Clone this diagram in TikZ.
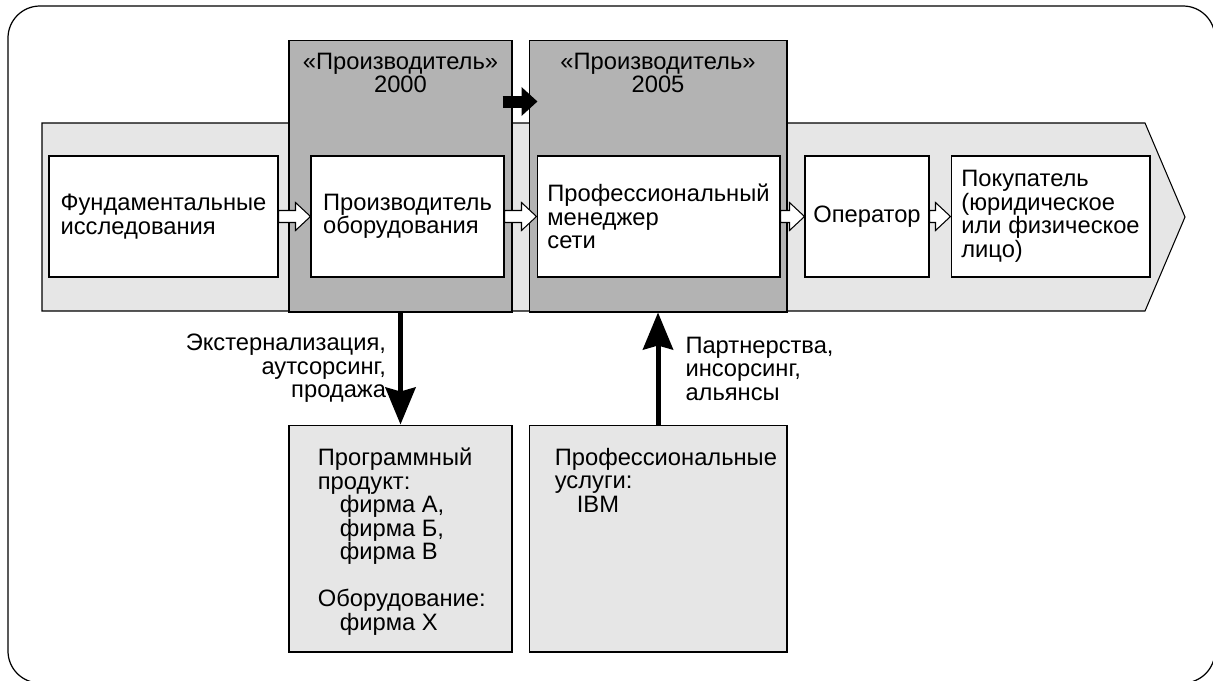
\documentclass[tikz,border=0pt]{standalone}
\usepackage{fontspec}
\setmainfont{Liberation Sans}
\usetikzlibrary{arrows.meta, calc}
\definecolor{colgray}{HTML}{B3B3B3}
\definecolor{bandgray}{HTML}{E6E6E6}

% white block arrow between two named boxes
\newcommand{\hollowarrow}[2]{%
  \draw[fill=white, line width=0.6pt] (#1.east) ++(0,-6) -- ($(#2.west)+(-15,-6)$) -- ($(#2.west)+(-15,-14)$) -- (#2.west) -- ($(#2.west)+(-15,14)$) -- ($(#2.west)+(-15,6)$) -- ($(#1.east)+(0,6)$) -- cycle;}

\begin{document}
\begin{tikzpicture}[x=0.02cm, y=-0.02cm, font=\fontsize{13.5}{13.4}\selectfont]

    \tikzstyle{stagebox} = [rectangle, draw, fill=white, line width=0.6pt, align=left, inner sep=0pt]
    \tikzstyle{phasecol} = [rectangle, draw, fill=colgray, line width=0.6pt]
    \tikzstyle{supplier} = [rectangle, draw, fill=bandgray, line width=0.6pt]
    \tikzstyle{bigarrow} = [line width=0.1cm, -{Stealth[length=0.74cm, width=0.6cm, inset=0.08cm]}]
    \tikzstyle{sidenote} = [inner sep=0pt]

    \useasboundingbox (0,0) rectangle (1213,680);
    \draw[line width=0.7pt, rounded corners=0.64cm] (8,6) rectangle (1215,683);

    % value chain band
    \draw[fill=bandgray, line width=0.6pt] (42,123) -- (1145,123) -- (1185,217) -- (1145,311) -- (42,311) -- cycle;

    \node (col1) [phasecol, minimum width=4.46cm, minimum height=5.44cm] at (400.5,176) {};
    \node (col2) [phasecol, minimum width=5.16cm, minimum height=5.44cm] at (658,176) {};
    \node (hdr1) [sidenote, anchor=north, align=center] at ($(col1.north)+(0,13)$) {«Производитель»\\2000};
    \node (hdr2) [sidenote, anchor=north, align=center] at ($(col2.north)+(0,13)$) {«Производитель»\\2005};

    \node (fund) [stagebox, minimum width=4.58cm, minimum height=2.42cm] at (163.5,216.5) {Фундаментальные\\исследования};
    \node (maker) [stagebox, minimum width=3.86cm, minimum height=2.42cm] at (407.5,216.5) {Производитель\\оборудования};
    \node (netmgr) [stagebox, minimum width=4.86cm, minimum height=2.42cm] at (658.5,216.5) {Профессиональный\\менеджер\\сети};
    \node (oper) [stagebox, minimum width=2.48cm, minimum height=2.42cm] at (867,216.5) {Оператор};
    \node (buyer) [stagebox, minimum width=3.98cm, minimum height=2.42cm] at (1050.5,216.5) {Покупатель\\(юридическое\\или физическое\\лицо)};

    \hollowarrow{fund}{maker}
    \hollowarrow{maker}{netmgr}
    \hollowarrow{netmgr}{oper}
    \hollowarrow{oper}{buyer}

    \draw[line width=0.24cm, -{Triangle[length=0.32cm, width=0.56cm]}] ($(col1.north east)+(-10,62)$) -- ($(col2.north west)+(9,62)$);

    \node (supp1) [supplier, minimum width=4.46cm, minimum height=4.54cm] at (400.5,538.5) {};
    \node (supp2) [supplier, minimum width=5.16cm, minimum height=4.54cm] at (658,538.5) {};
    \node (soft) [sidenote, anchor=north west, align=left] at ($(supp1.north west)+(29,23)$) {Программный\\продукт:\\\hspace*{0.44cm}фирма А,\\\hspace*{0.44cm}фирма Б,\\\hspace*{0.44cm}фирма В\\[13.4pt]Оборудование:\\\hspace*{0.44cm}фирма Х};
    \node (serv) [sidenote, anchor=north west, align=left] at ($(supp2.north west)+(26,23)$) {Профессиональные\\услуги:\\\hspace*{0.44cm}IBM};

    \draw[bigarrow] (col1.south) -- (supp1.north) node[midway, sidenote, align=right, left=0.24cm] {Экстернализация,\\аутсорсинг,\\продажа};
    \draw[bigarrow] (supp2.north) -- (col2.south) node[midway, sidenote, align=left, right=0.5cm] {Партнерства,\\инсорсинг,\\альянсы};

\end{tikzpicture}
\end{document}
